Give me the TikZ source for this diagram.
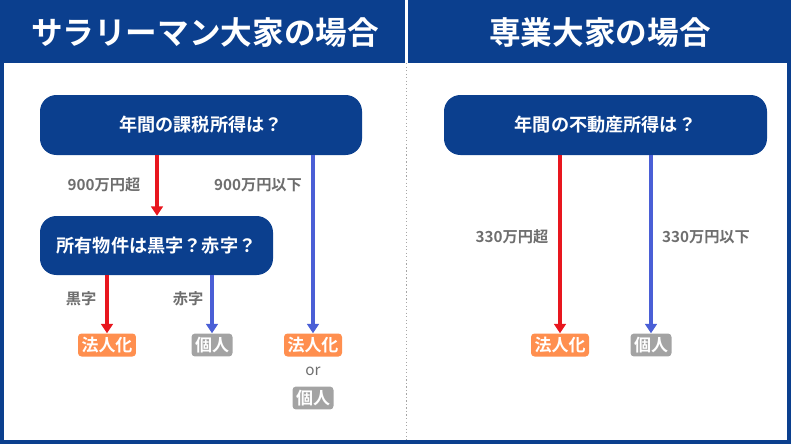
\documentclass[tikz,border=0pt]{standalone}
\usepackage{fontspec}
\setmainfont{Noto Sans CJK JP}[BoldFont={* Bold}]
\usetikzlibrary{positioning, arrows.meta}
\definecolor{navy}{HTML}{0B3F8E}
\definecolor{redarr}{HTML}{E8161E}
\definecolor{bluearr}{HTML}{4A5FD6}
\definecolor{tagorange}{HTML}{FF8F4F}
\definecolor{taggray}{HTML}{A3A3A3}
\definecolor{labgray}{HTML}{6E6E6E}
\tikzset{
  qbox/.style={fill=navy, rounded corners=14pt, text=white, font=\bfseries\fontsize{15.5}{18}\selectfont, align=center},
  tag/.style={rounded corners=3pt, text=white, font=\bfseries\fontsize{14.5}{16}\selectfont, inner sep=3pt},
  lab/.style={text=labgray, font=\bfseries\fontsize{13}{15}\selectfont},
  redline/.style={redarr, line width=3.5pt, -{Triangle[length=8pt,width=10pt]}},
  blueline/.style={bluearr, line width=3.5pt, -{Triangle[length=8pt,width=10pt]}}
}
\begin{document}
\begin{tikzpicture}[x=0.03cm, y=-0.03cm]
\useasboundingbox (0,0) rectangle (791,444);
% frame and header
\fill[navy] (0,0) rectangle (791,63);
\draw[navy, line width=4pt] (2,2) rectangle (789,442);
\fill[white] (405,0) rectangle (408,63);
\draw[gray!70, dotted, line width=1pt] (406.5,63) -- (406.5,440);
\node[text=white, font=\bfseries\fontsize{27}{30}\selectfont] (titleL) at (205,33) {サラリーマン大家の場合};
\node[text=white, font=\bfseries\fontsize{27}{30}\selectfont] (titleR) at (600,33) {専業大家の場合};

% left side
\node[qbox, minimum width=322*0.03cm, minimum height=60*0.03cm] (q1) at (201,125) {年間の課税所得は？};
\node[qbox, minimum width=233*0.03cm, minimum height=59*0.03cm] (q2) at (156.5,245.5) {所有物件は黒字？赤字？};
\node[tag, fill=tagorange] (t1) at (107,345) {法人化};
\node[tag, fill=taggray] (t2) at (212,345) {個人};
\node[tag, fill=tagorange] (t3) at (313,345) {法人化};
\node[text=labgray, font=\fontsize{13}{15}\selectfont] (or) at (313,371) {or};
\node[tag, fill=taggray] (t4) at (313,398) {個人};
\draw[redline] (q1.south -| 157,0) -- (q2.north -| 157,0);
\draw[blueline] (q1.south -| t3.north) -- (t3.north);
\draw[redline] (q2.south -| t1.north) -- (t1.north);
\draw[blueline] (q2.south -| t2.north) -- (t2.north);
\node[lab] (l1) at (104,185) {900万円超};
\node[lab] (l2) at (258,185) {900万円以下};
\node[lab] (l3) at (81,299) {黒字};
\node[lab] (l4) at (188,299) {赤字};

% right side
\node[qbox, minimum width=323*0.03cm, minimum height=60*0.03cm] (q3) at (605.5,125) {年間の不動産所得は？};
\node[tag, fill=tagorange] (t5) at (560,345) {法人化};
\node[tag, fill=taggray] (t6) at (651,345) {個人};
\draw[redline] (q3.south -| t5.north) -- (t5.north);
\draw[blueline] (q3.south -| t6.north) -- (t6.north);
\node[lab] (l5) at (512,237) {330万円超};
\node[lab] (l6) at (706,237) {330万円以下};
\end{tikzpicture}
\end{document}
